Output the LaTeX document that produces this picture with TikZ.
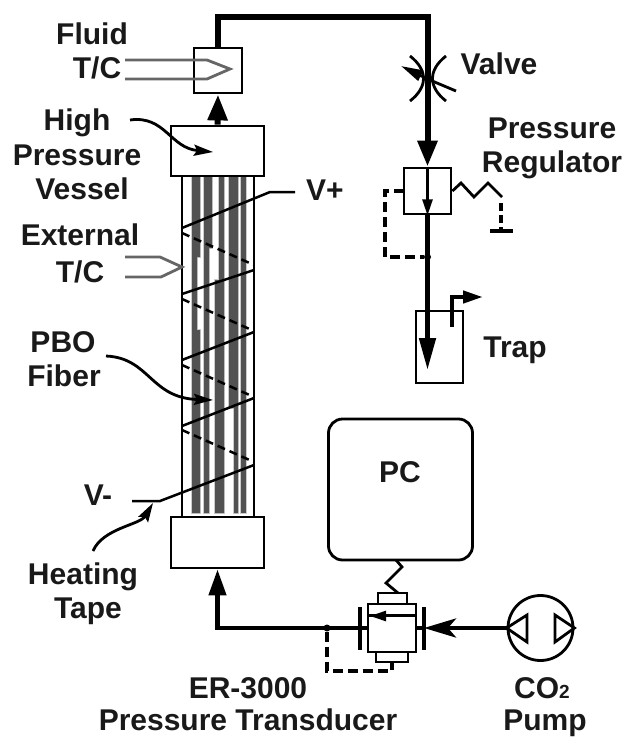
\documentclass[tikz,border=0pt]{standalone}
\usepackage{fontspec}
\setmainfont{Liberation Sans}
\usetikzlibrary{arrows.meta,positioning}
\tikzset{
lbl/.style={anchor=base,inner sep=0,font=\fontsize{30}{30}\selectfont\bfseries,text=black!90},
pbox/.style={draw,line width=2.8pt,fill=white,inner sep=0,rectangle},
pipe/.style={line width=6pt},
midpipe/.style={line width=4.4pt},
wire/.style={line width=2.5pt},
tcline/.style={draw=black!60,line width=2.8pt},
bigtip/.style={-{Stealth[length=26pt,width=19pt,inset=0pt]}},
leader/.style={line width=2.8pt,-{Stealth[length=19pt,width=11pt,inset=3pt]}},
pilot/.style={line width=3.8pt,dash pattern=on 10pt off 5pt},
fiber/.style={fill=black!68,draw=none,preaction={draw=black!20,line width=2pt}},
dotn/.style={circle,fill=black,inner sep=0,minimum size=7pt}
}
\begin{document}
\begin{tikzpicture}[x=1pt,y=-1pt]
\useasboundingbox (0,0) rectangle (624,737);

% fibers
\path[fiber] (192,176) rectangle (200,257) (192,257) rectangle (197,330) (192,330) rectangle (200,513);
\path[fiber] (204,176) rectangle (212,248) (204,248) rectangle (209,513);
\path[fiber] (219,176) rectangle (224,280) (215,280) rectangle (224,513);
\path[fiber] (229,176) rectangle (238,408) (234,408) rectangle (238,513);
\path[fiber] (241,176) rectangle (246,513);

\draw[line width=2.8pt] (182,176) -- (182,517);
\draw[line width=2.8pt] (254,176) -- (254,517);

% boxes
\node (fluidbox) at (218,70.5) [pbox,minimum width=48pt,minimum height=45pt] {};
\node (vessel) at (217.5,151) [pbox,minimum width=93pt,minimum height=50pt] {};
\node (lower) at (217.5,542.5) [pbox,minimum width=93pt,minimum height=51pt] {};
\node (regulator) at (427.5,191) [pbox,minimum width=47pt,minimum height=46pt] {};
\node (trap) at (439.5,347) [pbox,minimum width=47pt,minimum height=72pt] {};
\node (pc) at (400.5,489.5) [draw,line width=2.8pt,rounded corners=14pt,inner sep=0,minimum width=144pt,minimum height=141pt] {};
\node (pump) at (540.5,628) [draw,circle,line width=2.8pt,inner sep=0,minimum size=65pt] {};
\node (sensor) at (392,628) [pbox,minimum width=48pt,minimum height=48pt] {};
\node (sensortop) at (392.5,598.5) [pbox,minimum width=29pt,minimum height=11pt] {};
\node (sensorbot) at (392,657) [pbox,minimum width=32pt,minimum height=10pt] {};

% heating tape
\coordinate (vplus) at (295,192);
\coordinate (vminus) at (132,501);
\draw[wire] (182,228) -- (270,192) -- (vplus);
\foreach \ya/\yb in {270/294,332/360,398/426} {
\draw[wire] (254,\ya) -- (182,\yb);
}
\draw[wire] (254,465) -- (160,501) -- (vminus);
\foreach \ya/\yb in {233/265,299/331,365/397,430/462} {
\draw[wire,dash pattern=on 8pt off 5pt] (182,\ya) -- (254,\yb);
}

% thermocouples
\draw[tcline] (125,60) -- (207,60) -- (230,69) -- (207,79) -- (125,79);
\draw[tcline] (125,257) -- (160,257) -- (182,267) -- (161,277) -- (125,277);

% piping
\coordinate (corner) at (427.5,17);
\coordinate (valve) at (427.5,79);
\coordinate (tap) at (427.5,257);
\draw[pipe,line join=miter] (fluidbox.north) |- (corner) -- (427.5,150);
\draw[pipe,bigtip] (427.5,140) -- (regulator.north);
\draw[pipe,bigtip] (vessel.north) -- (fluidbox.south);
\draw[line width=2.5pt,-{Stealth[length=16pt,width=10pt,inset=0pt]}] (regulator.north) -- (regulator.south);
\draw[line width=4.8pt,-{Stealth[length=32pt,width=16pt,inset=0pt]}] (regulator.south) -- (427.5,370);
\draw[line width=4.2pt,-{Stealth[length=20pt,width=12pt,inset=0pt]}] (452,327) -- (452,297) -- (483,297);

% valve
\draw[line width=2.8pt] (410,56) .. controls (428,70) and (428,87) .. (410,101);
\draw[line width=2.8pt] (446,56) .. controls (428,70) and (428,87) .. (446,101);
\draw[line width=2.8pt,-{Stealth[length=22pt,width=11pt,inset=0pt]}] (456,91) -- (valve) -- (401,66);

% regulator spring and pilot
\coordinate (springend) at (502,197);
\coordinate (groundtop) at (501,231);
\draw[line width=2.8pt] (regulator.east) -- (461,183) -- (474,197) -- (488,183) -- (springend);
\draw[line width=3.2pt,dash pattern=on 8pt off 4pt] (501,203) -- (groundtop);
\draw[line width=3.6pt] (490,231) -- (513,231);
\node (tapdot) at (tap) [dotn] {};
\draw[pilot] (404,191) -- (385,191) -- (385,257) -- (tapdot);

% pc link
\draw[line width=2.8pt] (396,560) -- (402,567) -- (386,583) -- (398,593);

% transducer
\coordinate (flangeL) at (360,628);
\coordinate (flangeR) at (424,628);
\coordinate (sensdot) at (327,628);
\draw[line width=2.8pt] (sensor.north west) ++(0,13) -- ++(48,0);
\draw[line width=2.5pt,-{Stealth[length=16pt,width=10pt,inset=0pt]}] (416,616) -- (370,616);
\draw[line width=3.6pt] (360,607) -- (flangeL) -- (360,650);
\draw[line width=3.6pt] (424,607) -- (flangeR) -- (424,650);
\draw[midpipe] (sensor.east) -- (flangeR);
\draw[midpipe,-{Stealth[length=32pt,width=19pt,inset=8pt]}] (pump.west) -- (flangeR);
\draw[midpipe,-{Stealth[length=26pt,width=17pt,inset=0pt]}] (sensor.west) -| (lower.south);
\node (sensdotn) at (sensdot) [dotn] {};
\draw[pilot] (sensdotn) -- (327,671) -- (392,671) -- (392,662);

% pump
\draw[line width=2.8pt] (pump.west) -- (527,615) -- (527,642) -- cycle;
\draw[line width=2.8pt] (pump.east) -- (555,615) -- (555,642) -- cycle;

% callouts
\coordinate (vesselend) at (213,152);
\coordinate (fiberend) at (213,400);
\coordinate (tapeend) at (153,503);
\draw[leader] (130,120) .. controls (165,115) and (170,148) .. (vesselend);
\draw[leader] (106,356) .. controls (150,358) and (150,398) .. (fiberend);
\draw[leader] (93,551) .. controls (103,528) and (140,525) .. (tapeend);

% labels
\node[lbl] (lfluid) at (92,44) {Fluid};
\node[lbl] (lfluidtc) at (97,78) {T/C};
\node[lbl] (lhigh) at (77,130) {High};
\node[lbl] (lpress) at (77,165) {Pressure};
\node[lbl] (lvessel) at (82,199) {Vessel};
\node[lbl] (lext) at (80,245) {External};
\node[lbl] (lexttc) at (80,282) {T/C};
\node[lbl] (lpbo) at (63,352) {PBO};
\node[lbl] (lfiber) at (64,386) {Fiber};
\node[lbl] (lvminus) at (98,505) {V-};
\node[lbl] (lvplus) at (325,200) {V+};
\node[lbl] (lheat) at (83,584) {Heating};
\node[lbl] (ltape) at (88,618) {Tape};
\node[lbl] (lvalve) at (499,74) {Valve};
\node[lbl] (lreg1) at (552,138) {Pressure};
\node[lbl] (lreg2) at (552,172) {Regulator};
\node[lbl] (ltrap) at (515,357) {Trap};
\node[lbl] (lpc) at (400,482) {PC};
\node[lbl] (ler) at (248,698) {ER-3000};
\node[lbl] (ltrans) at (248,730) {Pressure Transducer};
\node[lbl] (lco) at (542,698) {CO{\fontsize{19}{19}\selectfont 2}};
\node[lbl] (lpump) at (545,730) {Pump};
\end{tikzpicture}
\end{document}
